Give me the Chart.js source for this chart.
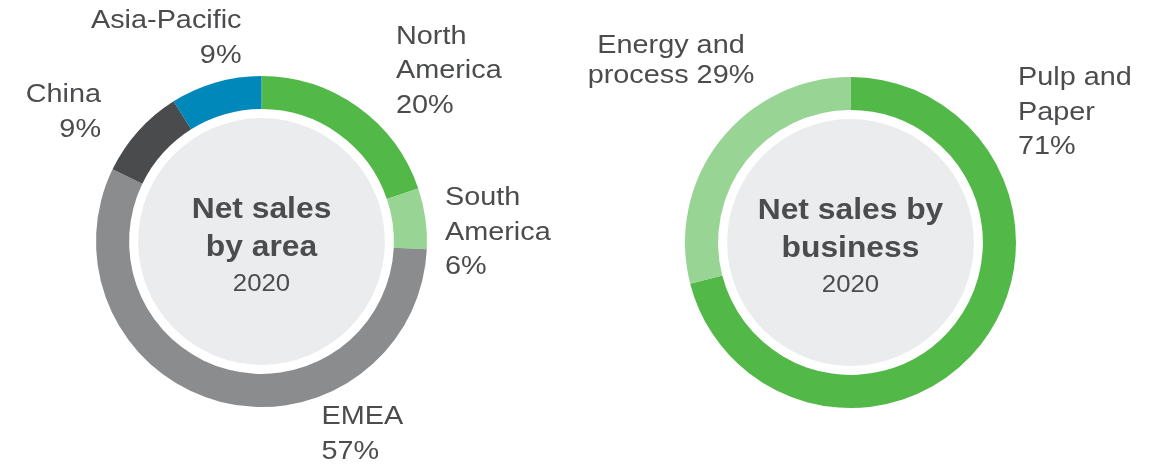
<!DOCTYPE html>
<html>
<head>
<meta charset="utf-8">
<script src="https://cdn.jsdelivr.net/npm/chart.js@4"></script>
<style>
  body { margin: 0; background: #fff; }
  .wrap { position: relative; width: 1161px; height: 466px; }
  canvas { position: absolute; left: 0; top: 0; }
</style>
</head>
<body>
<div class="wrap">
  <canvas id="areaChart" width="1161" height="466"></canvas>
  <canvas id="businessChart" width="1161" height="466"></canvas>
</div>
<script>
// Net sales by area, 2020 (%)
const areaLabels = ['North America', 'South America', 'EMEA', 'China', 'Asia-Pacific'];
const areaShares = [20, 6, 57, 9, 9];
const areaColors = ['#52b848', '#98d494', '#8b8c8e', '#4a4b4d', '#0088bb'];
// how each label is broken into lines ({p} = share)
const areaLabelText = ['North\nAmerica\n{p}%', 'South\nAmerica\n{p}%', 'EMEA\n{p}%', 'China\n{p}%', 'Asia-Pacific\n{p}%'];

// Net sales by business, 2020 (%)
const businessLabels = ['Pulp and Paper', 'Energy and process'];
const businessShares = [71, 29];
const businessColors = ['#52b848', '#98d494'];
const businessLabelText = ['Pulp and\nPaper\n{p}%', 'Energy and\nprocess {p}%'];

const TEXT_COLOR = '#4b4c4e';
const FONT = '"Liberation Sans", Arial, Helvetica, sans-serif';

function drawStretched(ctx, text, x, y, sx) {
  ctx.save();
  ctx.translate(x, y);
  ctx.scale(sx, 1);
  ctx.fillText(text, 0, 0);
  ctx.restore();
}

// draws grey centre disc, centre title and outside slice labels
const donutDecor = {
  id: 'donutDecor',
  beforeDatasetsDraw(chart, args, opts) {
    const arc = chart.getDatasetMeta(0).data[0];
    if (!arc) return;
    const ctx = chart.ctx;
    ctx.save();
    ctx.beginPath();
    ctx.arc(arc.x, arc.y, arc.innerRadius - 9, 0, Math.PI * 2);
    ctx.fillStyle = '#ebecee';
    ctx.fill();
    ctx.restore();
  },
  afterDraw(chart, args, opts) {
    const arc = chart.getDatasetMeta(0).data[0];
    if (!arc) return;
    const ctx = chart.ctx;
    ctx.save();
    ctx.fillStyle = TEXT_COLOR;
    ctx.textBaseline = 'alphabetic';

    // centre title
    ctx.textAlign = 'center';
    ctx.font = 'bold 30px ' + FONT;
    opts.title.forEach((line, i) => {
      drawStretched(ctx, line, arc.x, arc.y - 24 + i * 38, 1.06);
    });
    ctx.font = '23px ' + FONT;
    drawStretched(ctx, opts.year, arc.x, arc.y + 49, 1.12);

    // slice labels
    ctx.font = '25.5px ' + FONT;
    const shares = chart.data.datasets[0].data;
    opts.labels.forEach((lbl, i) => {
      const lines = opts.text[i].replace('{p}', shares[i]).split('\n');
      ctx.textAlign = lbl.align;
      lines.forEach((line, j) => {
        drawStretched(ctx, line, lbl.x, lbl.y + j * (lbl.gap || 34.5), 1.13);
      });
    });
    ctx.restore();
  }
};

function makeDonut(id, labels, data, colors, padding, decor) {
  return new Chart(document.getElementById(id), {
    type: 'doughnut',
    data: {
      labels: labels,
      datasets: [{
        data: data,
        backgroundColor: colors,
        borderWidth: 0
      }]
    },
    options: {
      responsive: false,
      animation: false,
      cutout: '80%',
      layout: { padding: padding },
      events: [],
      plugins: {
        legend: { display: false },
        tooltip: { enabled: false },
        donutDecor: decor
      }
    },
    plugins: [donutDecor]
  });
}

makeDonut('areaChart', areaLabels, areaShares, areaColors,
  { left: 96, right: 734, top: 76, bottom: 59 },
  {
    title: ['Net sales', 'by area'],
    year: '2020',
    text: areaLabelText,
    labels: [
      { x: 396, y: 43.5, align: 'left' },
      { x: 445, y: 205, align: 'left' },
      { x: 321.5, y: 423.5, align: 'left', gap: 35 },
      { x: 101, y: 102, align: 'right', gap: 35 },
      { x: 241.5, y: 28.3, align: 'right', gap: 34.7 }
    ]
  });

makeDonut('businessChart', businessLabels, businessShares, businessColors,
  { left: 685, right: 145, top: 77, bottom: 58 },
  {
    title: ['Net sales by', 'business'],
    year: '2020',
    text: businessLabelText,
    labels: [
      { x: 1018, y: 85, align: 'left' },
      { x: 671, y: 53.3, align: 'center', gap: 30 }
    ]
  });
</script>
</body>
</html>
